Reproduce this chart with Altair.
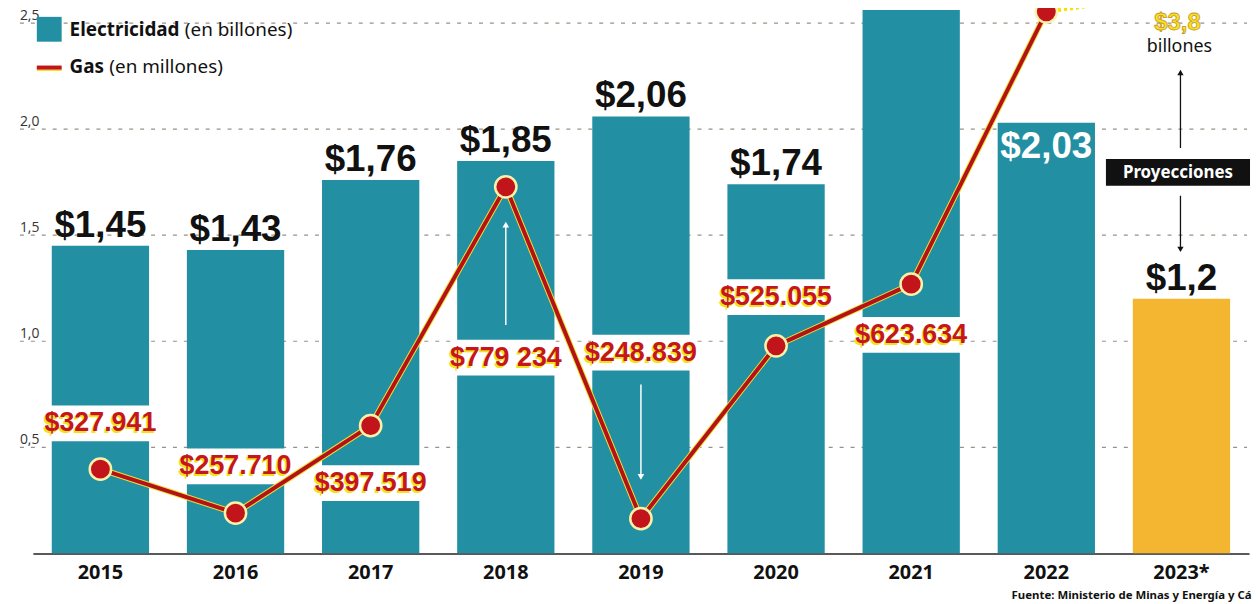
import altair as alt
import pandas as pd

# ---------------- data ----------------
years = ["2015", "2016", "2017", "2018", "2019", "2020", "2021", "2022", "2023*"]
elec = [1.45, 1.43, 1.76, 1.85, 2.06, 1.74, 2.70, 2.03, 1.20]
elec_labels = ["$1,45", "$1,43", "$1,76", "$1,85", "$2,06", "$1,74", "", "$2,03", "$1,2"]
elec_kind = ["real", "real", "real", "real", "real", "real", "real", "real", "proy"]

gas_years = ["2015", "2016", "2017", "2018", "2019", "2020", "2021", "2022"]
gas = [327941, 257710, 397519, 779234, 248839, 525055, 623634, 1059000]
gas_labels = ["$327.941", "$257.710", "$397.519", "$779 234", "$248.839", "$525.055", "$623.634", ""]

y_ticks = [0.5, 1.0, 1.5, 2.0, 2.5]
y_tick_labels = ["0,5", "1,0", "1,5", "2,0", "2,5"]

# ---------------- layout ----------------
W, H = 1224, 547
PX_PER_ELEC = 213.5
ELEC_MAX = H / PX_PER_ELEC
GAS_AT_ZERO = 193227
GAS_PER_ELEC = 339098
GAS_MAX = GAS_AT_ZERO + ELEC_MAX * GAS_PER_ELEC
GAS_PER_PX = (GAS_MAX - GAS_AT_ZERO) / H

label_shift_px = [-46, -47, 58, 172, -167, -49, 51, 0]  # + = below the point

elec_df = pd.DataFrame({"year": years, "value": elec, "label": elec_labels, "kind": elec_kind})
gas_df = pd.DataFrame({"year": gas_years, "gas": gas, "label": gas_labels})
gas_df["label_y"] = gas_df["gas"] - pd.Series(label_shift_px) * GAS_PER_PX

lab = dict(zip(gas_df["year"], gas_df["label_y"]))
gv = dict(zip(gas_df["year"], gas_df["gas"]))
arrow_df = pd.DataFrame({
    "year": ["2018", "2019"],
    "start": [lab["2018"] + 33 * GAS_PER_PX, lab["2019"] - 32 * GAS_PER_PX],
    "tip": [gv["2018"] - 38 * GAS_PER_PX, gv["2019"] + 42 * GAS_PER_PX],
    "dir": ["up", "down"],
})
grid_df = pd.DataFrame({"tick": y_ticks, "label": y_tick_labels})

# ---------------- scales / encodings ----------------
x_scale = alt.Scale(domain=years, paddingInner=0.28, paddingOuter=0.14)
x_axis = alt.Axis(title=None, ticks=False, grid=False, labelAngle=0,
                  labelFont="Noto Sans", labelFontWeight="bold", labelFontSize=20,
                  labelColor="#111111", labelPadding=9, domainColor="#222222",
                  domainWidth=1.5)
X = alt.X("year:N", scale=x_scale, axis=x_axis, sort=years)
elec_scale = alt.Scale(domain=[0, ELEC_MAX], nice=False, zero=False)
gas_scale = alt.Scale(domain=[GAS_AT_ZERO, GAS_MAX], nice=False, zero=False)

BIG = "Liberation Sans, Arial, sans-serif"

# ---------------- electricity layers ----------------
grid = alt.Chart(grid_df).mark_rule(strokeDash=[4, 7], color="#8a7d70", strokeWidth=1.2,
                                    opacity=0.85).encode(
    y=alt.Y("tick:Q", scale=elec_scale, axis=None), x=alt.value(-13), x2=alt.value(1222))
grid_lab = alt.Chart(grid_df).mark_text(align="left", baseline="alphabetic", dy=-3,
                                        font="Open Sans", fontSize=14, color="#333333").encode(
    y=alt.Y("tick:Q", scale=elec_scale, axis=None), x=alt.value(-13), text="label:N")

bars = alt.Chart(elec_df).mark_bar(clip=True).encode(
    x=X, y=alt.Y("value:Q", scale=elec_scale, axis=None),
    color=alt.Color("kind:N", scale=alt.Scale(domain=["real", "proy"], range=["#2290a2", "#f4b530"]),
                    legend=None))
bar_lab = alt.Chart(elec_df).transform_filter("datum.year != '2022'").mark_text(
    baseline="alphabetic", dy=-9, font=BIG, fontWeight="bold", fontSize=37, color="#111111").encode(
    x=X, y=alt.Y("value:Q", scale=elec_scale, axis=None), text="label:N")
bar_lab_in = alt.Chart(elec_df).transform_filter("datum.year == '2022'").mark_text(
    baseline="alphabetic", dy=35, font=BIG, fontWeight="bold", fontSize=37, color="white").encode(
    x=X, y=alt.Y("value:Q", scale=elec_scale, axis=None), text="label:N")

elec_layer = alt.layer(grid, grid_lab, bars, bar_lab, bar_lab_in)

# ---------------- gas layers ----------------
Yg = lambda f: alt.Y(f, scale=gas_scale, axis=None)
gas_lab_df = gas_df[gas_df["label"] != ""]

gaps = alt.Chart(gas_lab_df).mark_tick(color="white", thickness=36, size=100, opacity=1).encode(
    x=X, y=Yg("label_y:Q"))
arrows = alt.Chart(arrow_df).mark_rule(color="white", strokeWidth=1.5).encode(
    x=X, y=Yg("start:Q"), y2="tip:Q")
heads = alt.Chart(arrow_df).mark_point(filled=True, size=45, color="white", opacity=1).encode(
    x=X, y=Yg("tip:Q"),
    shape=alt.Shape("dir:N", scale=alt.Scale(domain=["up", "down"], range=["triangle-up", "triangle-down"]),
                    legend=None))
dotted = alt.Chart(gas_df).transform_filter("datum.year == '2022'").mark_rule(
    color="#f5e100", strokeWidth=4, strokeDash=[3, 3]).encode(
    x=X, y=Yg("gas:Q"), x2=alt.value(1105), y2=alt.value(-10))
line_shadow = alt.Chart(gas_df).mark_line(color="#efe030", strokeWidth=6).encode(x=X, y=Yg("gas:Q"))
line = alt.Chart(gas_df).mark_line(color="#b3121a", strokeWidth=4).encode(x=X, y=Yg("gas:Q"))
pts = alt.Chart(gas_df).mark_point(filled=True, size=460, color="#c2141b", stroke="#fbf1a8",
                                   strokeWidth=2.5, opacity=1).encode(x=X, y=Yg("gas:Q"))
gas_shadow = alt.Chart(gas_lab_df).mark_text(baseline="middle", dx=-1.5, dy=2, font=BIG,
                                             fontWeight="bold", fontSize=27, color="#f2e21a").encode(
    x=X, y=Yg("label_y:Q"), text="label:N")
gas_text = alt.Chart(gas_lab_df).mark_text(baseline="middle", font=BIG, fontWeight="bold",
                                           fontSize=27, color="#c4161c").encode(
    x=X, y=Yg("label_y:Q"), text="label:N")

gas_layer = alt.layer(gaps, arrows, heads, dotted, line_shadow, line, pts, gas_shadow, gas_text)

# ---------------- annotations ----------------
one = pd.DataFrame({"a": [0]})


def txt(t, x, y, **kw):
    return alt.Chart(one).mark_text(text=t, **kw).encode(x=alt.value(x), y=alt.value(y))


legend_sq = alt.Chart(one).mark_point(shape="square", filled=True, size=625, color="#2290a2",
                                      opacity=1).encode(x=alt.value(16.5), y=alt.value(19.5))
legend_line_y = alt.Chart(one).mark_rule(color="#efe030", strokeWidth=3).encode(
    x=alt.value(4), x2=alt.value(29), y=alt.value(60))
legend_line = alt.Chart(one).mark_rule(color="#c2141b", strokeWidth=4).encode(
    x=alt.value(4), x2=alt.value(29), y=alt.value(58))
leg_txt = [
    txt("Electricidad", 37, 20, align="left", baseline="middle", font="Noto Sans", fontWeight="bold",
        fontSize=19, color="#111111"),
    txt("(en billones)", 153, 20, align="left", baseline="middle", font="Noto Sans", fontSize=19,
        color="#111111"),
    txt("Gas", 37, 58, align="left", baseline="middle", font="Noto Sans", fontWeight="bold",
        fontSize=19, color="#111111"),
    txt("(en millones)", 77, 58, align="left", baseline="middle", font="Noto Sans", fontSize=19,
        color="#111111"),
]

proj_val = txt("$3,8", 1152, 13, align="center", baseline="middle", font=BIG, fontWeight="bold",
               fontSize=24, color="#f5e31f", stroke="#c8962a", strokeWidth=0.8)
proj_unit = txt("billones", 1154, 37, align="center", baseline="middle", font="Noto Sans",
                fontSize=18, color="#111111")
arrow_up = alt.Chart(one).mark_rule(color="#111111", strokeWidth=1.3).encode(
    x=alt.value(1155), y=alt.value(139), y2=alt.value(64))
arrow_up_h = alt.Chart(one).mark_point(shape="triangle-up", filled=True, size=40, color="#111111",
                                       opacity=1).encode(x=alt.value(1155), y=alt.value(63))
box = alt.Chart(one).mark_rect(color="#111111").encode(
    x=alt.value(1080), x2=alt.value(1225), y=alt.value(150), y2=alt.value(177))
box_txt = txt("Proyecciones", 1152.5, 164, align="center", baseline="middle", font="Noto Sans",
              fontWeight="bold", fontSize=17, color="white")
arrow_dn = alt.Chart(one).mark_rule(color="#111111", strokeWidth=1.3).encode(
    x=alt.value(1155), y=alt.value(187), y2=alt.value(240))
arrow_dn_h = alt.Chart(one).mark_point(shape="triangle-down", filled=True, size=40, color="#111111",
                                       opacity=1).encode(x=alt.value(1155), y=alt.value(241))
source = txt("Fuente: Ministerio de Minas y Energía y Cálculos propios", 985, 590, align="left",
             baseline="middle", font="Noto Sans", fontWeight="bold", fontSize=11.5, color="#111111")

annot = alt.layer(legend_sq, legend_line_y, legend_line, *leg_txt, proj_val, proj_unit, arrow_up,
                  arrow_up_h, box, box_txt, arrow_dn, arrow_dn_h, source)

chart = alt.layer(elec_layer, gas_layer, annot).resolve_scale(y="independent").properties(
    width=W, height=H, padding={"left": 25, "top": 0, "right": 3, "bottom": 49},
    autosize=alt.AutoSizeParams(type="none"), background="white"
).configure_view(stroke=None)

chart.save("out.html", embed_options={"renderer": "svg", "actions": False})
